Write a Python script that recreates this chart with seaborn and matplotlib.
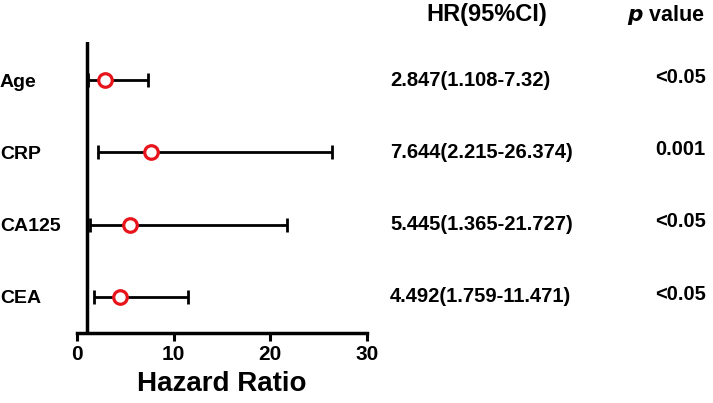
import matplotlib
matplotlib.use("Agg")
import matplotlib.pyplot as plt
import matplotlib.transforms as mtrans
import seaborn as sns
import pandas as pd

variables = ["Age", "CRP", "CA125", "CEA"]
hr = [2.847, 7.644, 5.445, 4.492]
ci_low = [1.108, 2.215, 1.365, 1.759]
ci_high = [7.32, 26.374, 21.727, 11.471]
hr_text = ["2.847(1.108-7.32)", "7.644(2.215-26.374)", "5.445(1.365-21.727)", "4.492(1.759-11.471)"]
p_text = ["<0.05", "0.001", "<0.05", "<0.05"]
xticks = [0, 10, 20, 30]

sns.set_theme(style="white")
plt.rcParams["font.family"] = ["Liberation Sans", "DejaVu Sans"]
plt.rcParams["font.weight"] = "bold"
plt.rcParams["text.color"] = "black"
plt.rcParams["axes.labelcolor"] = "black"
plt.rcParams["xtick.color"] = "black"
plt.rcParams["ytick.color"] = "black"

df = pd.DataFrame({"var": variables, "hr": hr, "lo": ci_low, "hi": ci_high,
                   "pos": list(range(len(variables)))})

fig = plt.figure(figsize=(7.13, 4.03), dpi=100)
ax = fig.add_axes([77/713, 1-333/403, 290/713, 291/403])

ax.errorbar(df["hr"], df["pos"],
            xerr=[df["hr"] - df["lo"], df["hi"] - df["hr"]],
            fmt="none", ecolor="black", elinewidth=2.0, capsize=5, capthick=2.0, zorder=2)
sns.scatterplot(data=df, x="hr", y="pos", ax=ax, s=95, marker="o",
                facecolor="white", edgecolor="#e8141c", linewidth=2.3, zorder=3, legend=False)
ax.axvline(1, color="black", lw=2.5, zorder=1)

ax.set_xlim(0, 30)
ax.set_ylim(3.5, -0.53)
ax.set_xticks(xticks)
ax.set_xticklabels([str(t) for t in xticks], fontsize=15, fontweight="bold", color="black")
ax.set_yticks(df["pos"])
ax.set_yticklabels(variables, fontsize=14, fontweight="bold", ha="left", color="black")
ax.tick_params(axis="y", length=0, pad=77*0.72)
ax.tick_params(axis="x", length=6, width=2.2, direction="out", bottom=True, pad=3, colors="black")
for s in ["left", "right", "top"]:
    ax.spines[s].set_visible(False)
ax.spines["bottom"].set_linewidth(2.5)
ax.spines["bottom"].set_color("black")
ax.set_xlabel("Hazard Ratio", fontsize=20, fontweight="bold", labelpad=5, color="black")
ax.set_ylabel("")

tr = mtrans.blended_transform_factory(fig.transFigure, ax.transData)
for i in range(len(variables)):
    ax.text(390/713, i, hr_text[i], transform=tr, ha="left", va="center",
            fontsize=14.5, fontweight="bold", clip_on=False, color="black")
    ax.text(655/713, i - 0.04, p_text[i], transform=tr, ha="left", va="center",
            fontsize=14.5, fontweight="bold", clip_on=False, color="black")

fig.text(487/713, 1-15/403, "HR(95%CI)", ha="center", va="center", fontsize=17,
         fontweight="bold", color="black")
fig.text(705/713, 1-15/403, r"$\boldsymbol{p}$ value", ha="right", va="center", fontsize=15.5,
         fontweight="bold", color="black")

fig.savefig("out.png", dpi=100)
